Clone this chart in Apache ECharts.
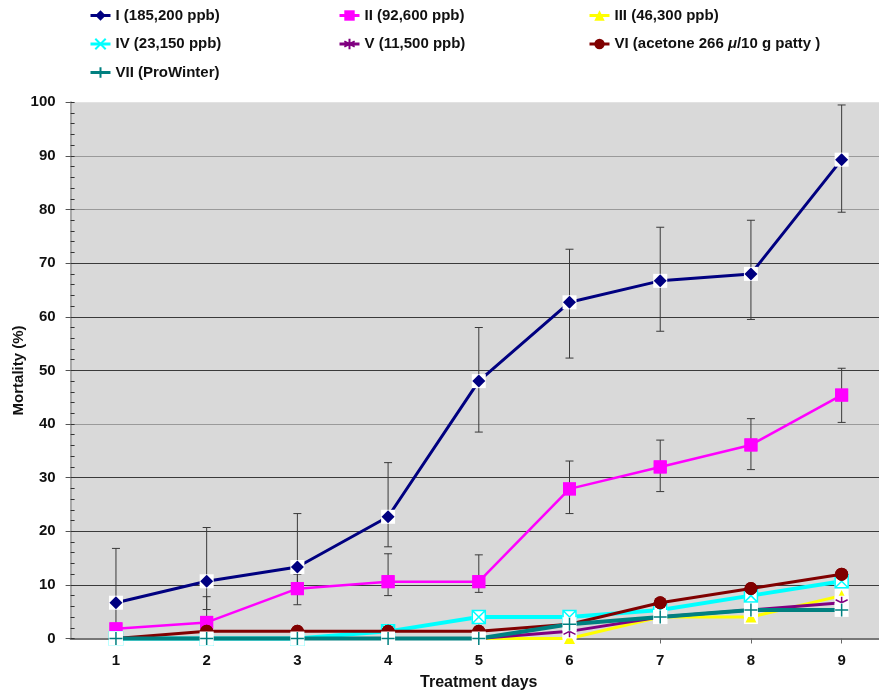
<!DOCTYPE html>
<html>
<head>
<meta charset="utf-8">
<script src="https://cdn.jsdelivr.net/npm/echarts@6/dist/echarts.min.js"></script>
<style>
  html, body { margin: 0; padding: 0; background: #ffffff; }
  #chart { width: 879px; height: 692px; }
</style>
</head>
<body>
<div id="chart"></div>
<script>
// Treatment days (x axis categories)
const days = ['1', '2', '3', '4', '5', '6', '7', '8', '9'];

// Treatment group names
const groupNames = [
  'I (185,200 ppb)',
  'II (92,600 ppb)',
  'III (46,300 ppb)',
  'IV (23,150 ppb)',
  'V (11,500 ppb)',
  'VI (acetone 266 μ/10 g patty )',
  'VII (ProWinter)'
];

// Cumulative mortality (%) per day for each group
const mortI   = [6.67, 10.67, 13.33, 22.7, 48.0, 62.7, 66.7, 68.0, 89.3];
const mortII  = [1.8, 3.0, 9.3, 10.6, 10.6, 27.9, 32.0, 36.1, 45.4];
const mortIII = [0, 0, 0, 0, 0, 0, 4.0, 4.0, 8.0];
const mortIV  = [0, 0, 0, 1.33, 4.0, 4.0, 5.33, 8.0, 10.67];
const mortV   = [0, 0, 0, 0, 0, 1.33, 4.0, 5.33, 6.67];
const mortVI  = [0, 1.33, 1.33, 1.33, 1.33, 2.67, 6.67, 9.33, 12.0];
const mortVII = [0, 0, 0, 0, 0, 2.67, 4.0, 5.33, 5.33];

// Error bar ends (upper / lower) for groups I and II
const errIHigh  = [16.8, 20.7, 23.3, 32.8, 58.0, 72.6, 76.7, 78.0, 99.5];
const errILow   = [0, 5.4, 9.3, 17.1, 38.5, 52.3, 57.3, 59.5, 79.5];
const errIIHigh = [null, 7.8, 12.0, 15.8, 15.6, 33.1, 37.0, 41.0, 50.4];
const errIILow  = [null, 0, 6.3, 8.0, 8.6, 23.3, 27.4, 31.5, 40.3];

// Y axis ticks
const yMin = 0, yMax = 100, yStep = 10, yMinorStep = 2;

const FONT = '"Liberation Sans", Arial, Helvetica, sans-serif';

// Marker shapes
const PATH_X = 'path://M0,0L10,10M10,0L0,10';
const PATH_BOX_X = 'path://M0,0L10,0L10,10L0,10Z M0,0L10,10 M10,0L0,10';
const PATH_STAR = 'path://M5,0L5,10M0.7,2.5L9.3,7.5M0.7,7.5L9.3,2.5';
const PATH_PLUS = 'path://M5,0L5,10M0,5L10,5';

const allValues = [mortI, mortII, mortIII, mortIV, mortV, mortVI, mortVII];

const looks = [
  { color: '#000080', width: 3,   legendSymbol: 'diamond',  marker: 'diamond',  size: 13, stroke: false, backing: true },
  { color: '#ff00ff', width: 2.5, legendSymbol: 'rect',     marker: 'rect',     size: 13, stroke: false, backing: false },
  { color: '#ffff00', width: 3,   legendSymbol: 'triangle', marker: 'triangle', size: 11, stroke: false, backing: true },
  { color: '#00ffff', width: 4,   legendSymbol: PATH_X,     marker: PATH_BOX_X, size: 13, stroke: true,  backing: true },
  { color: '#800080', width: 3,   legendSymbol: PATH_STAR,  marker: PATH_STAR,  size: 12, stroke: true,  backing: true },
  { color: '#800000', width: 3,   legendSymbol: 'circle',   marker: 'circle',   size: 13, stroke: false, backing: false },
  { color: '#008080', width: 4,   legendSymbol: PATH_PLUS,  marker: PATH_PLUS,  size: 13, stroke: true,  backing: true }
];

const series = [];

// Error bars drawn beneath everything else
function errorBarSeries(high, low) {
  const data = [];
  high.forEach((h, i) => { if (h !== null) data.push([i, h, low[i]]); });
  return {
    type: 'custom',
    z: 1,
    silent: true,
    clip: false,
    encode: { x: 0, y: [1, 2] },
    data: data,
    renderItem: function (params, api) {
      const x = api.value(0);
      const top = api.coord([x, api.value(1)]);
      const bot = api.coord([x, api.value(2)]);
      const cap = 4;
      const style = { stroke: '#3a3a3a', lineWidth: 1 };
      return {
        type: 'group',
        children: [
          { type: 'line', shape: { x1: top[0], y1: top[1], x2: bot[0], y2: bot[1] }, style: style },
          { type: 'line', shape: { x1: top[0] - cap, y1: top[1], x2: top[0] + cap, y2: top[1] }, style: style },
          { type: 'line', shape: { x1: bot[0] - cap, y1: bot[1], x2: bot[0] + cap, y2: bot[1] }, style: style }
        ]
      };
    }
  };
}
series.push(errorBarSeries(errIHigh, errILow));
series.push(errorBarSeries(errIIHigh, errIILow));

// Each group is layered in turn: its line, white squares behind markers, then markers.
allValues.forEach((vals, k) => {
  const lk = looks[k];
  const base = 10 + k * 3;
  series.push({
    name: groupNames[k],
    type: 'line',
    z: base,
    clip: false,
    data: vals,
    symbol: lk.legendSymbol,
    symbolSize: lk.size,
    showSymbol: true,
    lineStyle: { color: lk.color, width: lk.width },
    itemStyle: lk.stroke
      ? { color: lk.color, borderColor: lk.color, borderWidth: 1.5 }
      : { color: lk.color, borderWidth: 0 }
  });
  if (lk.backing) {
    series.push({
      name: 'backing-' + k,
      type: 'scatter',
      z: base + 1,
      clip: false,
      silent: true,
      data: vals,
      symbol: 'rect',
      symbolSize: 14,
      itemStyle: { color: '#ffffff', opacity: 1 }
    });
  }
  series.push({
    name: 'marker-' + k,
    type: 'scatter',
    z: base + 2,
    clip: false,
    silent: true,
    data: vals,
    symbol: lk.marker,
    symbolSize: lk.size,
    itemStyle: lk.stroke
      ? { color: 'rgba(0,0,0,0)', borderColor: lk.color, borderWidth: 1.5, opacity: 1 }
      : { color: lk.color, opacity: 1 }
  });
});

function legendAt(left, names) {
  return {
    left: left,
    top: 7,
    orient: 'vertical',
    padding: 0,
    itemGap: 11.5,
    itemWidth: 20,
    itemHeight: 13,
    selectedMode: false,
    lineStyle: { width: 3 },
    data: names,
    formatter: function (name) {
      return name.indexOf('μ') >= 0 ? name.replace('μ', '{i|μ}') : name;
    },
    textStyle: {
      fontFamily: FONT,
      fontWeight: 'bold',
      fontSize: 15,
      color: '#111',
      lineHeight: 17,
      rich: {
        i: { fontFamily: FONT, fontWeight: 'bold', fontStyle: 'italic', fontSize: 15, color: '#111' }
      }
    }
  };
}

// Grid line shades, one per tick from 0 to 100
const splitColors = ['#666666', '#3a3a3a', '#3a3a3a', '#3a3a3a', '#9a9a9a', '#3a3a3a',
                     '#3a3a3a', '#3a3a3a', '#9a9a9a', '#9a9a9a', '#9a9a9a'];

const option = {
  animation: false,
  backgroundColor: '#ffffff',
  legend: [
    legendAt(89, [groupNames[0], groupNames[3], groupNames[6]]),
    legendAt(338, [groupNames[1], groupNames[4]]),
    legendAt(588, [groupNames[2], groupNames[5]])
  ],
  grid: {
    left: 70.6,
    right: -8,
    top: 102.3,
    bottom: 53.5,
    containLabel: false,
    outerBoundsMode: 'none',
    show: true,
    backgroundColor: '#d9d9d9',
    borderWidth: 0
  },
  xAxis: {
    type: 'category',
    data: days,
    boundaryGap: true,
    name: 'Treatment days',
    nameLocation: 'middle',
    nameGap: 36,
    nameTextStyle: { fontFamily: FONT, fontWeight: 'bold', fontSize: 16, color: '#111' },
    axisLine: { show: true, lineStyle: { color: '#777777', width: 2 } },
    axisTick: { show: true, alignWithLabel: true, length: 5, lineStyle: { color: '#666666' } },
    axisLabel: { fontFamily: FONT, fontWeight: 'bold', fontSize: 15, color: '#111', margin: 15 },
    splitLine: { show: false }
  },
  yAxis: [
    {
      type: 'value',
      min: yMin,
      max: yMax,
      interval: yStep,
      name: 'Mortality (%)',
      nameLocation: 'middle',
      nameGap: 44,
      nameRotate: 90,
      nameMoveOverlap: false,
      nameTextStyle: { fontFamily: FONT, fontWeight: 'bold', fontSize: 15, color: '#111' },
      axisLine: { show: true, lineStyle: { color: '#a8a8a8', width: 2 } },
      axisTick: { show: true, length: 5, lineStyle: { color: '#555555' } },
      axisLabel: { fontFamily: FONT, fontWeight: 'bold', fontSize: 15, color: '#111', margin: 15 },
      splitLine: { show: true, showMaxLine: false, lineStyle: { color: splitColors, width: 1.2 } }
    },
    {
      // short inner ticks every 2 %
      type: 'value',
      min: yMin,
      max: yMax,
      interval: yMinorStep,
      position: 'left',
      axisLine: { show: false },
      axisTick: { show: true, inside: true, length: 4, lineStyle: { color: '#333333' } },
      axisLabel: { show: false },
      splitLine: { show: false }
    }
  ],
  series: series
};

const chart = echarts.init(document.getElementById('chart'), null, { renderer: 'canvas' });
chart.setOption(option);
</script>
</body>
</html>
